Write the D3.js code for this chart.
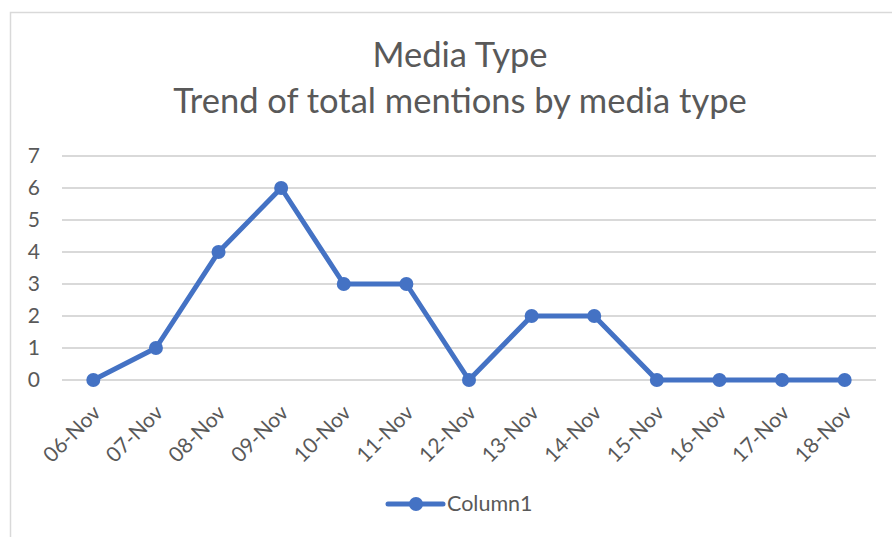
<!DOCTYPE html>
<html>
<head>
<meta charset="utf-8">
<script src="https://cdn.jsdelivr.net/npm/d3@7"></script>
<style>
  body { margin: 0; background: #fff; }
  text { font-family: Lato, "Open Sans", sans-serif; fill: #595959; }
</style>
</head>
<body>
<div id="chart"></div>
<script>
// data
const dates  = ["06-Nov","07-Nov","08-Nov","09-Nov","10-Nov","11-Nov","12-Nov","13-Nov","14-Nov","15-Nov","16-Nov","17-Nov","18-Nov"];
const values = [0, 1, 4, 6, 3, 3, 0, 2, 2, 0, 0, 0, 0];
const yTicks = [0, 1, 2, 3, 4, 5, 6, 7];
const seriesName = "Column1";
const titleLines = ["Media Type", "Trend of total mentions by media type"];

const width = 892, height = 537;
const blue = "#4472C4";

const svg = d3.select("#chart").append("svg")
  .attr("width", width)
  .attr("height", height);

// chart frame (cropped on right / bottom)
svg.append("rect")
  .attr("x", 10.5).attr("y", 12.5)
  .attr("width", 900).attr("height", 600)
  .attr("fill", "none")
  .attr("stroke", "#d9d9d9")
  .attr("stroke-width", 1.5);

const x = d3.scalePoint().domain(dates).range([62, 876]).padding(0.5);
const y = d3.scaleLinear().domain([0, 7]).range([380, 156]);

// title
svg.selectAll(".title")
  .data(titleLines)
  .enter().append("text")
  .attr("class", "title")
  .attr("x", 460)
  .attr("y", (d, i) => 67 + i * 46)
  .attr("text-anchor", "middle")
  .style("font-size", "34.5px")
  .text(d => d);

// gridlines
svg.append("g")
  .selectAll("line")
  .data(yTicks)
  .enter().append("line")
  .attr("x1", 62).attr("x2", 876)
  .attr("y1", d => y(d)).attr("y2", d => y(d))
  .attr("stroke", "#d9d9d9")
  .attr("stroke-width", 2);

// y axis labels
const yAxis = svg.append("g")
  .attr("transform", "translate(48,0)")
  .call(d3.axisLeft(y).tickValues(yTicks).tickFormat(d3.format("d")).tickSize(0).tickPadding(8));
yAxis.select(".domain").remove();
yAxis.selectAll("text")
  .style("font-size", "21px")
  .style("font-family", "Lato, sans-serif")
  .attr("fill", "#595959");

// x axis labels
const xAxis = svg.append("g")
  .attr("transform", "translate(0,380)")
  .call(d3.axisBottom(x).tickSize(0).tickPadding(0));
xAxis.select(".domain").remove();
xAxis.selectAll("text")
  .style("font-size", "21px")
  .style("font-family", "Lato, sans-serif")
  .attr("fill", "#595959")
  .attr("text-anchor", "end")
  .attr("dy", "0")
  .attr("y", 0)
  .attr("transform", "translate(8,34) rotate(-45)");

// line
const line = d3.line()
  .x((d, i) => x(dates[i]))
  .y(d => y(d));

svg.append("path")
  .datum(values)
  .attr("fill", "none")
  .attr("stroke", blue)
  .attr("stroke-width", 5)
  .attr("stroke-linejoin", "round")
  .attr("d", line);

svg.append("g")
  .selectAll("circle")
  .data(values)
  .enter().append("circle")
  .attr("cx", (d, i) => x(dates[i]))
  .attr("cy", d => y(d))
  .attr("r", 7)
  .attr("fill", blue);

// legend
const legend = svg.append("g").attr("transform", "translate(388,504)");
legend.append("line")
  .attr("x1", 0).attr("x2", 55)
  .attr("stroke", blue)
  .attr("stroke-width", 5)
  .attr("stroke-linecap", "round");
legend.append("circle")
  .attr("cx", 28).attr("r", 7)
  .attr("fill", blue);
legend.append("text")
  .attr("x", 59).attr("y", 7)
  .style("font-size", "21.5px")
  .text(seriesName);
</script>
</body>
</html>
